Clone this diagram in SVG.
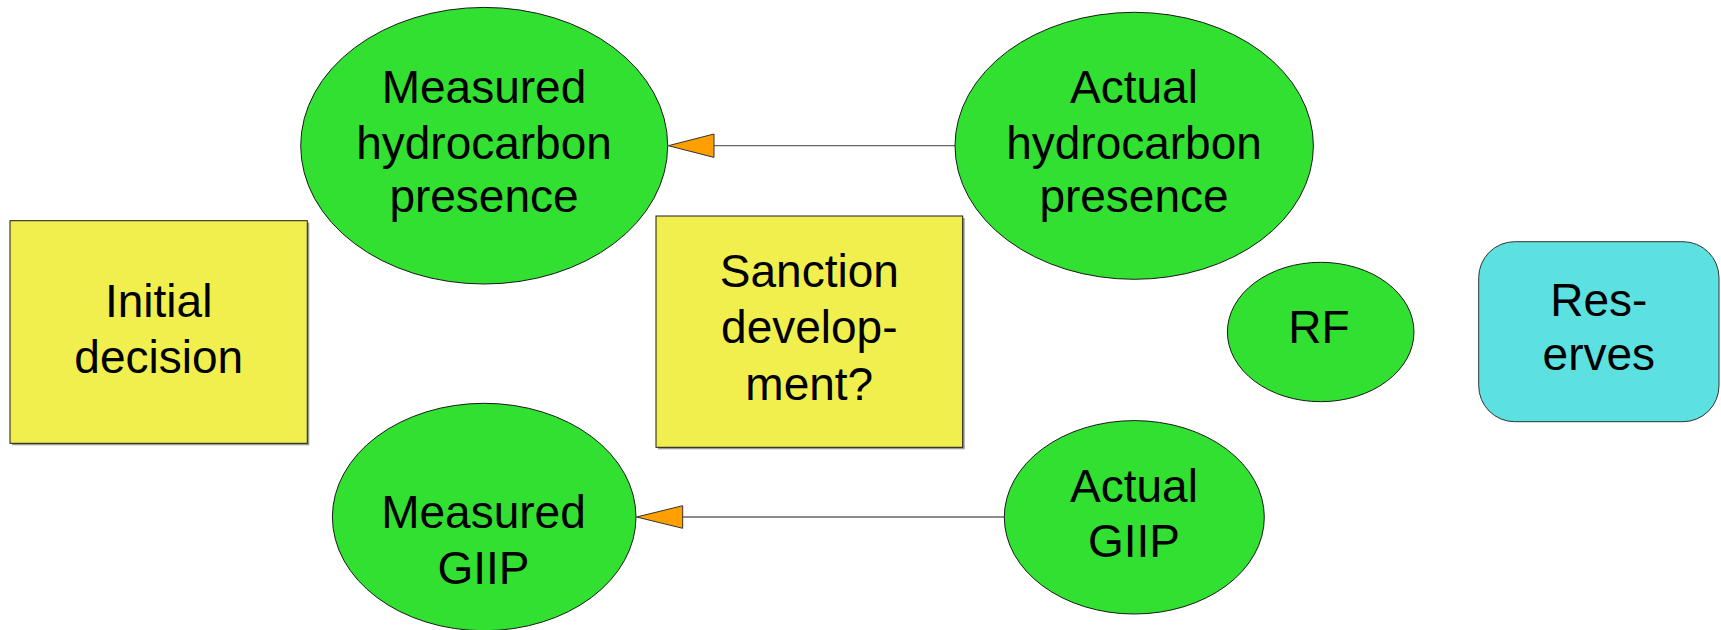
<svg xmlns="http://www.w3.org/2000/svg" width="1721" height="630" viewBox="0 0 1721 630">
  <style>
    .chance { fill: #31e031; stroke: #1a1a1a; stroke-width: 1; }
    .decision { fill: #f0ef4e; stroke: #1a1a1a; stroke-width: 1; }
    .value { fill: #5ce1e0; stroke: #333; stroke-width: 1; }
    .lbl { font-family: "Liberation Sans", Arial, sans-serif; font-size: 46px; fill: #000; text-anchor: middle; }
    .link { stroke: #666; stroke-width: 1.3; fill: none; }
    .head { fill: #ff9f00; stroke: #333; stroke-width: 1; stroke-linejoin: miter; }
    .shadow { fill: #9a9a9a; }
  </style>

  <!-- influence arcs -->
  <g id="connectors">
    <line class="link" x1="714" y1="145.7" x2="955" y2="145.7"/>
    <polygon class="head" points="668.3,145.7 714,134 714,157.4"/>
    <line class="link" x1="682.7" y1="517" x2="1004.3" y2="517"/>
    <polygon class="head" points="636.5,517 682.7,505.7 682.7,528.3"/>
  </g>

  <g id="initial-decision">
    <rect class="shadow" x="12" y="222.7" width="297.3" height="222.6"/>
    <rect class="decision" x="10" y="220.7" width="297.3" height="222.6"/>
    <text class="lbl" x="158.7" y="317.3">Initial</text>
    <text class="lbl" x="158.7" y="372.7">decision</text>
  </g>

  <g id="measured-hc">
    <ellipse class="chance" cx="484.2" cy="145.7" rx="183.5" ry="138.3"/>
    <text class="lbl" x="484" y="102.7">Measured</text>
    <text class="lbl" x="484" y="159.3">hydrocarbon</text>
    <text class="lbl" x="484" y="212.3">presence</text>
  </g>

  <g id="actual-hc">
    <ellipse class="chance" cx="1134.2" cy="145.8" rx="179.2" ry="133.5"/>
    <text class="lbl" x="1134" y="102.7">Actual</text>
    <text class="lbl" x="1134" y="159.3">hydrocarbon</text>
    <text class="lbl" x="1134" y="212.3">presence</text>
  </g>

  <g id="sanction">
    <rect class="shadow" x="658" y="218" width="306.7" height="231.3"/>
    <rect class="decision" x="656" y="216" width="306.7" height="231.3"/>
    <text class="lbl" x="809.3" y="286.7">Sanction</text>
    <text class="lbl" x="809.3" y="342.7">develop-</text>
    <text class="lbl" x="809.3" y="400">ment?</text>
  </g>

  <g id="rf">
    <ellipse class="chance" cx="1320.7" cy="332" rx="93.3" ry="69.7"/>
    <text class="lbl" x="1319" y="343.3">RF</text>
  </g>

  <g id="reserves">
    <rect class="value" x="1478.7" y="241.7" width="240.3" height="180" rx="36" ry="36"/>
    <text class="lbl" x="1598.8" y="315.7">Res-</text>
    <text class="lbl" x="1598.8" y="370">erves</text>
  </g>

  <g id="measured-giip">
    <ellipse class="chance" cx="484.2" cy="517" rx="151.8" ry="113.7"/>
    <text class="lbl" x="483.5" y="528.3">Measured</text>
    <text class="lbl" x="483.5" y="584.3">GIIP</text>
  </g>

  <g id="actual-giip">
    <ellipse class="chance" cx="1134.3" cy="517.3" rx="130" ry="96.7"/>
    <text class="lbl" x="1134" y="501.7">Actual</text>
    <text class="lbl" x="1134" y="557.3">GIIP</text>
  </g>
</svg>
